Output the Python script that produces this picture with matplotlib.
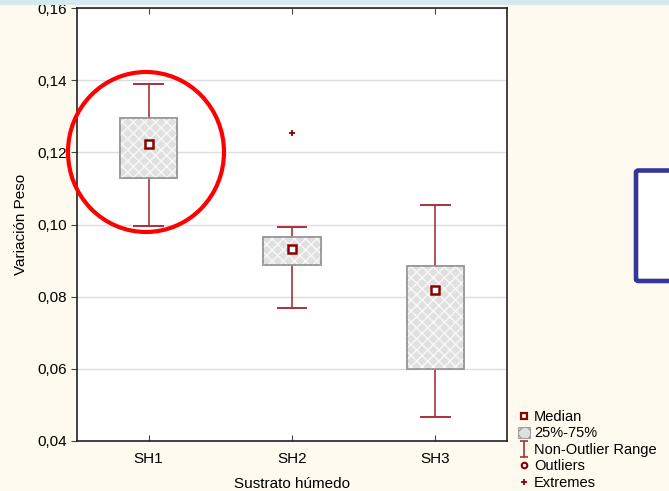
import matplotlib
matplotlib.use("Agg")
import matplotlib.pyplot as plt
from matplotlib.patches import Ellipse, Rectangle, Patch, FancyBboxPatch
from matplotlib.lines import Line2D
from matplotlib.path import Path
from matplotlib.ticker import FuncFormatter

plt.rcParams['font.family'] = ['Liberation Sans', 'DejaVu Sans']

# Box-plot summaries per substrate
categories = ["SH1", "SH2", "SH3"]
medians = [0.1223, 0.0932, 0.0819]
q1 = [0.1128, 0.0887, 0.0600]
q3 = [0.1296, 0.0965, 0.0885]
whisker_low = [0.0996, 0.0769, 0.0467]
whisker_high = [0.1389, 0.0993, 0.1054]
extremes = [[], [0.1254], []]
y_ticks = [0.04, 0.06, 0.08, 0.10, 0.12, 0.14, 0.16]

W, H = 669, 491
fig = plt.figure(figsize=(W / 100, H / 100), dpi=100)
fig.patch.set_facecolor('#fffaef')

def fx(x):
    return x / W

def fy(y):
    return 1 - y / H

ax = fig.add_axes([fx(77), fy(441), fx(507) - fx(77), fy(8) - fy(441)])
ax.set_facecolor('white')

dark_red = '#8b0000'
whisk = '#a8323a'

stats = []
for i, c in enumerate(categories):
    stats.append(dict(label=c, med=medians[i], q1=q1[i], q3=q3[i],
                      whislo=whisker_low[i], whishi=whisker_high[i],
                      fliers=extremes[i]))

positions = [1, 2, 3]
res = ax.bxp(stats, positions=positions, widths=0.4, patch_artist=True,
             showfliers=True, capwidths=0.2,
             boxprops=dict(facecolor='#e0e0e0', edgecolor='#9a9a9a', linewidth=1.2),
             whiskerprops=dict(color=whisk, linewidth=1.2),
             capprops=dict(color=whisk, linewidth=1.4),
             medianprops=dict(linewidth=0),
             flierprops=dict(marker='+', markersize=4, markeredgecolor=dark_red,
                             markeredgewidth=1.3, linestyle='none'))

# light cross pattern on top of the boxes
for b in res['boxes']:
    b.set_zorder(2)
    overlay = plt.Polygon(b.get_path().vertices, closed=True, facecolor='none',
                          edgecolor='#f8f8f8', hatch='xxx', linewidth=0, zorder=2.5)
    ax.add_patch(overlay)
    frame = plt.Polygon(b.get_path().vertices, closed=True, facecolor='none',
                        edgecolor='#9a9a9a', linewidth=1.2, zorder=2.6)
    ax.add_patch(frame)

ax.plot(positions, medians, linestyle='none', marker='s', markersize=5.5,
        markerfacecolor='white', markeredgecolor=dark_red, markeredgewidth=1.8, zorder=4)

ax.set_xlim(0.5, 3.5)
ax.set_ylim(0.04, 0.16)
ax.set_yticks(y_ticks)
ax.yaxis.set_major_formatter(FuncFormatter(lambda v, p: f"{v:.2f}".replace('.', ',')))
ax.set_xticks(positions)
ax.set_xticklabels(categories)
ax.grid(axis='y', color='#dedede', linewidth=1)
ax.set_axisbelow(True)
ax.tick_params(axis='y', direction='out', length=4, labelsize=11, pad=3, color='#444')
ax.tick_params(axis='x', direction='in', length=4, labelsize=11, pad=8, top=True, color='#444')
for s in ax.spines.values():
    s.set_color('#222')
    s.set_linewidth(1.2)

ax.set_xlabel("Sustrato húmedo", fontsize=11, labelpad=8)
ax.set_ylabel("Variación Peso", fontsize=11, labelpad=7)

# legend
cap_path = Path([(-0.5, 1), (0.5, 1), (0, 1), (0, -1), (-0.5, -1), (0.5, -1)],
                [Path.MOVETO, Path.LINETO, Path.MOVETO, Path.LINETO, Path.MOVETO, Path.LINETO])
handles = [
    Line2D([], [], linestyle='none', marker='s', markersize=5, markerfacecolor='white',
           markeredgecolor=dark_red, markeredgewidth=1.6),
    Patch(facecolor='#e0e0e0', edgecolor='#a0a0a0', hatch='xx', linewidth=0.8),
    Line2D([], [], linestyle='none', marker=cap_path, markersize=11,
           markerfacecolor='none', markeredgecolor=whisk, markeredgewidth=1.2),
    Line2D([], [], linestyle='none', marker='o', markersize=4, markerfacecolor='white',
           markeredgecolor=dark_red, markeredgewidth=1.5),
    Line2D([], [], linestyle='none', marker='+', markersize=4,
           markeredgecolor=dark_red, markeredgewidth=1.3),
]
labels = ["Median", "25%-75%", "Non-Outlier Range", "Outliers", "Extremes"]
fig.legend(handles, labels, loc='upper left', bbox_to_anchor=(fx(518), fy(410)),
           frameon=False, fontsize=10.5, handlelength=0.8, handleheight=0.8,
           handletextpad=0.3, labelspacing=0.17, borderpad=0, borderaxespad=0)

# top band
fig.add_artist(Rectangle((0, fy(5)), 1, 1 - fy(5), transform=fig.transFigure,
                         facecolor='#d6e9ee', edgecolor='none', zorder=10))

# highlight ellipse around SH1
fig.add_artist(Ellipse((fx(146), fy(152)), 156 / W, 160 / H, transform=fig.transFigure,
                       facecolor='none', edgecolor='#ff0000', linewidth=3.0, zorder=11))

# blue frame at right
fig.add_artist(FancyBboxPatch((fx(636), fy(281)), (W + 20 - 636) / W, (281 - 170.5) / H,
                              boxstyle='round,pad=0,rounding_size=0.004',
                              transform=fig.transFigure, facecolor='white',
                              edgecolor='#35359a', linewidth=3.3, zorder=11))

fig.savefig("out.png", dpi=100, facecolor=fig.get_facecolor())
